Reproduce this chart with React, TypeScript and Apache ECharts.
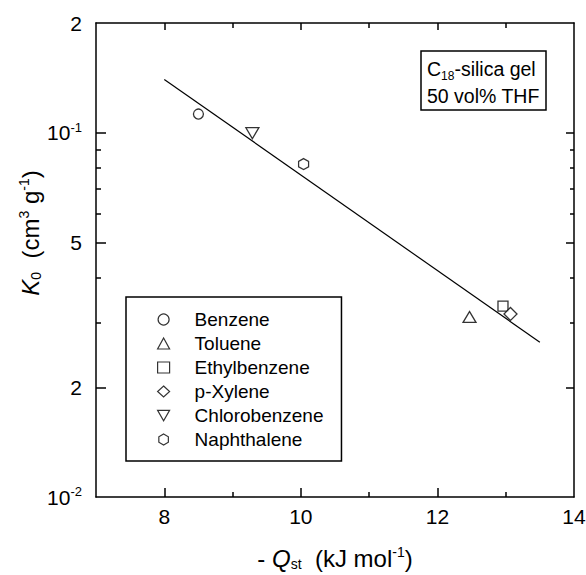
import React, { useEffect, useRef } from "react";
import * as echarts from "echarts";

// ---- data ----
const seriesNames = ["Benzene", "Toluene", "Ethylbenzene", "p-Xylene", "Chlorobenzene", "Naphthalene"];
const qst = [8.5, 12.47, 12.96, 13.07, 9.29, 10.04];
const k0 = [0.1125, 0.0312, 0.0334, 0.0318, 0.0997, 0.082];
const fitQ = [8.0, 13.5];
const fitK = [0.14, 0.0266];
const xLabelValues = [8, 10, 12, 14];
const xMajorTicks = [8, 10, 12];
const xMinorTicks = [9, 11, 13];
const yLabelValues = [0.01, 0.02, 0.05, 0.1, 0.2];
const yLabelTexts = ["{b|10}{s|-2}", "2", "5", "{b|10}{s|-1}", "2"];
const yMajorTicks = [0.02, 0.05, 0.1];
const yMinorTicks = [0.03, 0.04, 0.06, 0.07, 0.08, 0.09];

// ---- styles ----
const FONT = '"Liberation Sans", Arial, Helvetica, sans-serif';
const HEX = "path://M0,-1 L0.866,-0.5 L0.866,0.5 L0,1 L-0.866,0.5 L-0.866,-0.5 Z";
const TRI_DOWN = "path://M0,0 L2,0 L1,1.73 Z";
const symbols = ["circle", "triangle", "rect", "diamond", TRI_DOWN, HEX];
const symbolSizes: any[] = [[10, 10], [13, 11], [10, 10], [13, 13], [13, 11], [10, 11]];

const Y_MIN = Math.log10(0.01);
const Y_MAX = Math.log10(0.2);
const lg = (v: number) => Math.log10(v);

const TITLE_RICH = {
  n: { fontSize: 24, fontFamily: FONT, color: "#000", lineHeight: 26 },
  i: { fontSize: 24, fontFamily: FONT, color: "#000", fontStyle: "italic", lineHeight: 26 },
  sub: { fontSize: 14, fontFamily: FONT, color: "#000", verticalAlign: "bottom", lineHeight: 14 },
  sup: { fontSize: 14, fontFamily: FONT, color: "#000", verticalAlign: "top", lineHeight: 14 },
};

function xAxisDef(position: "top" | "bottom", ticks: number[], len: number, showLine: boolean, labels: boolean, name?: boolean): any {
  return {
    type: "value",
    position,
    min: 7,
    max: 14,
    splitLine: { show: false },
    axisLine: { show: showLine, onZero: false, lineStyle: { color: "#000", width: 1.5 } },
    axisTick: { show: true, inside: true, length: len, customValues: ticks, lineStyle: { color: "#000", width: 1.5 } },
    axisLabel: labels
      ? { show: true, customValues: xLabelValues, fontSize: 21, color: "#000", fontFamily: FONT, margin: 9 }
      : { show: false },
    ...(name
      ? {
          name: "{n|- }{i|Q}{sub|st}{n|  (kJ mol}{sup|-1}{n|)}",
          nameLocation: "middle",
          nameGap: 48,
          nameTextStyle: { color: "#000", fontFamily: FONT, fontSize: 24, rich: TITLE_RICH },
        }
      : {}),
  };
}

function yAxisDef(position: "left" | "right", ticks: number[], len: number, showLine: boolean, labels: boolean): any {
  return {
    type: "value",
    position,
    min: Y_MIN,
    max: Y_MAX,
    splitLine: { show: false },
    axisLine: { show: showLine, onZero: false, lineStyle: { color: "#000", width: 1.5 } },
    axisTick: { show: true, inside: true, length: len, customValues: ticks.map(lg), lineStyle: { color: "#000", width: 1.5 } },
    axisLabel: labels
      ? {
          show: true,
          customValues: yLabelValues.map(lg),
          margin: 14,
          fontSize: 21,
          color: "#000",
          fontFamily: FONT,
          formatter: (v: number) => {
            let best = 0;
            yLabelValues.forEach((y, i) => {
              if (Math.abs(lg(y) - v) < Math.abs(lg(yLabelValues[best]) - v)) best = i;
            });
            return yLabelTexts[best];
          },
          rich: {
            b: { fontSize: 21, fontFamily: FONT, color: "#000", lineHeight: 24 },
            s: { fontSize: 13, fontFamily: FONT, color: "#000", verticalAlign: "top", lineHeight: 13 },
          },
        }
      : { show: false },
  };
}

export default function App() {
  const ref = useRef<HTMLDivElement>(null);

  useEffect(() => {
    document.body.style.margin = "0";
    if (!ref.current) return;
    const chart = echarts.init(ref.current, undefined, { renderer: "svg" });

    const scatterSeries = seriesNames.map((name, i) => ({
      name,
      type: "scatter",
      xAxisIndex: 0,
      yAxisIndex: 0,
      symbol: symbols[i],
      symbolSize: symbolSizes[i],
      itemStyle: { color: "#fff", borderColor: "#000", borderWidth: 1.3 },
      data: [[qst[i], lg(k0[i])]],
      z: 5,
    }));

    const option: any = {
      animation: false,
      backgroundColor: "#fff",
      textStyle: { fontFamily: FONT },
      grid: { left: 96, right: 12, top: 23, bottom: 78, containLabel: false, outerBoundsMode: "none" },
      xAxis: [
        xAxisDef("bottom", xMajorTicks, 9, true, true, true),
        xAxisDef("bottom", xMinorTicks, 5, false, false),
        xAxisDef("top", xMajorTicks, 7, true, false),
        xAxisDef("top", xMinorTicks, 5, false, false),
      ],
      yAxis: [
        yAxisDef("left", yMajorTicks, 10, true, true),
        yAxisDef("left", yMinorTicks, 5, false, false),
        yAxisDef("right", yMajorTicks, 8, true, false),
        yAxisDef("right", yMinorTicks, 4, false, false),
      ],
      legend: {
        orient: "vertical",
        left: 126,
        top: 297,
        data: seriesNames,
        itemWidth: 12,
        itemHeight: 11,
        itemGap: 5,
        padding: [13, 18, 12, 31],
        borderColor: "#000",
        borderWidth: 1.5,
        backgroundColor: "#fff",
        selectedMode: false,
        itemStyle: { borderWidth: 1.2, borderColor: "#000", color: "#fff" },
        textStyle: { fontSize: 19, color: "#000", fontFamily: FONT, lineHeight: 19, padding: [0, 0, 0, 20] },
      },
      graphic: [
        {
          type: "rect",
          shape: { x: 421, y: 51, width: 125, height: 59 },
          style: { fill: "#fff", stroke: "#000", lineWidth: 1.5 },
          z: 10,
        },
        {
          type: "text",
          x: 427,
          y: 55,
          z: 11,
          style: {
            text: "{n|C}{s|18}{n|-silica gel}\n{n|50 vol% THF}",
            fill: "#000",
            rich: {
              n: { fontSize: 19.5, fontFamily: FONT, color: "#000", lineHeight: 27 },
              s: { fontSize: 12, fontFamily: FONT, color: "#000", verticalAlign: "bottom", lineHeight: 12 },
            },
          },
        },
        {
          type: "text",
          x: 30,
          y: 233,
          rotation: Math.PI / 2,
          z: 11,
          style: {
            text: "{i|K}{sub|0}{n|  (cm}{sup|3}{n| g}{sup|-1}{n|)}",
            align: "center",
            verticalAlign: "middle",
            fill: "#000",
            rich: TITLE_RICH,
          },
        },
      ],
      series: [
        {
          type: "line",
          xAxisIndex: 0,
          yAxisIndex: 0,
          data: fitQ.map((q, i) => [q, lg(fitK[i])]),
          symbol: "none",
          lineStyle: { color: "#000", width: 1.2 },
          z: 3,
        },
        ...scatterSeries,
      ],
    };

    chart.setOption(option);
    return () => chart.dispose();
  }, []);

  return <div ref={ref} style={{ width: 586, height: 575 }} />;
}
